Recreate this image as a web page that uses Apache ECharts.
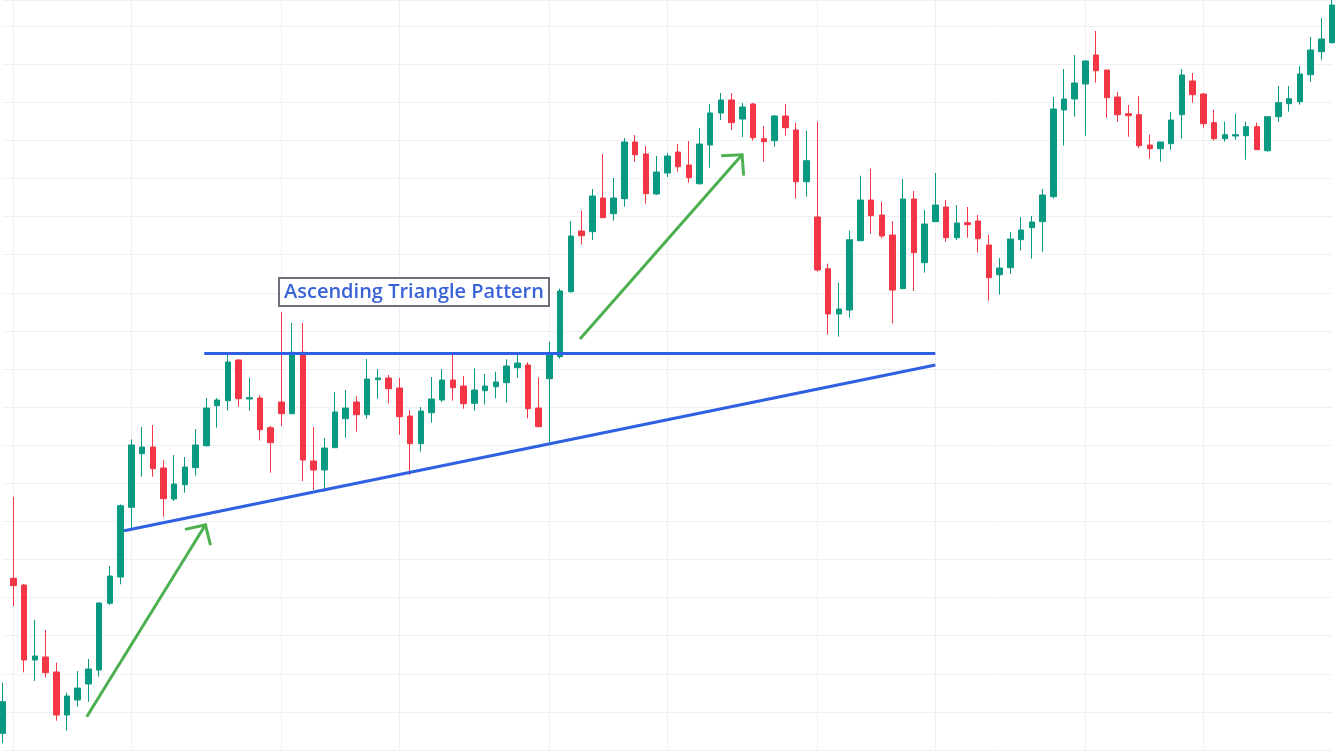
<!DOCTYPE html>
<html>
<head>
<meta charset="utf-8">
<title>Ascending Triangle Pattern</title>
<script src="https://cdn.jsdelivr.net/npm/echarts@6/dist/echarts.min.js"></script>
<style>
  html, body { margin: 0; padding: 0; background: #fff; }
  #chart { width: 1340px; height: 753px; }
</style>
</head>
<body>
<div id="chart"></div>
<script>
// daily OHLC
const open = [
  39.77, 55.27, 54.6, 47.1, 47.4, 45.9, 41.6, 43.1, 44.7, 46.1,
  52.77, 55.4, 62.37, 67.73, 68.4, 66.3, 63.2, 64.63, 66.33, 68.53,
  72.53, 73.03, 77.1, 73.2, 73.3, 70.33, 72.9, 71.73, 77.87, 67.0,
  66.1, 68.33, 71.23, 72.9, 71.63, 75.13, 75.3, 74.3, 71.5, 68.73,
  71.83, 73.1, 75.1, 74.5, 72.77, 74.03, 74.43, 74.83, 76.33, 76.6,
  72.3, 75.23, 77.43, 83.93, 90.0, 89.93, 93.3, 91.73, 93.23, 98.9,
  97.7, 93.7, 95.8, 97.9, 96.6, 94.73, 98.6, 101.8, 103.1, 101.2,
  102.7, 99.23, 99.03, 101.5, 100.1, 94.93, 91.4, 86.23, 81.7, 82.1,
  89.03, 93.1, 91.6, 89.6, 84.23, 93.2, 86.83, 90.93, 92.4, 89.33,
  90.83, 91.0, 88.6, 85.63, 86.33, 89.13, 90.33, 90.93, 93.43, 102.1,
  103.2, 104.7, 107.6, 106.1, 103.4, 101.73, 101.63, 98.6, 98.23, 98.73,
  101.63, 105.0, 103.7, 100.83, 99.23, 99.5, 99.53, 100.43, 98.03, 101.43,
  102.73, 102.93, 105.63, 107.93, 108.83
];
const close = [
  42.93, 54.53, 47.1, 47.5, 45.83, 41.6, 43.5, 44.3, 46.2, 52.8,
  55.5, 62.53, 68.6, 68.4, 66.23, 63.23, 64.7, 66.4, 68.6, 72.3,
  73.1, 76.9, 73.23, 73.33, 70.13, 68.83, 71.73, 77.87, 67.1, 66.1,
  68.3, 71.9, 72.3, 71.63, 75.2, 75.3, 74.23, 71.43, 68.73, 72.0,
  73.2, 75.1, 74.33, 72.73, 74.1, 74.5, 74.9, 76.5, 76.8, 72.23,
  70.43, 77.63, 84.0, 89.5, 89.53, 93.5, 91.33, 93.3, 98.9, 97.63,
  93.73, 95.9, 97.5, 96.43, 95.33, 98.7, 101.8, 103.1, 100.83, 102.4,
  99.33, 98.93, 101.5, 100.33, 94.93, 97.03, 86.1, 81.7, 82.2, 89.13,
  93.1, 91.53, 89.5, 84.1, 93.2, 87.83, 90.7, 92.6, 89.33, 90.8,
  90.63, 89.23, 85.33, 86.3, 89.2, 90.1, 90.9, 93.6, 102.2, 103.2,
  104.8, 107.0, 106.03, 103.33, 101.63, 101.53, 98.53, 98.23, 98.9, 101.1,
  105.6, 103.63, 100.73, 99.23, 99.63, 99.63, 100.43, 98.13, 101.43, 102.83,
  103.23, 105.7, 108.1, 109.2, 112.6
];
const low = [
  38.77, 52.5, 45.87, 45.0, 45.37, 41.03, 40.03, 42.43, 42.93, 45.43,
  52.6, 54.67, 60.3, 65.43, 65.43, 61.43, 63.0, 63.83, 65.53, 68.43,
  70.33, 72.03, 72.43, 72.03, 69.07, 65.83, 70.5, 71.7, 65.0, 64.1,
  63.9, 68.3, 69.33, 69.93, 71.23, 73.23, 72.73, 69.63, 65.6, 67.93,
  70.83, 72.93, 73.03, 72.23, 72.03, 72.67, 73.27, 72.83, 75.33, 71.27,
  70.4, 68.87, 77.23, 83.83, 88.63, 89.1, 91.3, 91.03, 92.43, 96.93,
  92.73, 93.6, 95.4, 95.93, 94.83, 94.63, 96.33, 101.1, 100.1, 99.4,
  99.03, 96.93, 98.43, 99.53, 93.23, 93.43, 85.93, 79.63, 79.43, 81.33,
  89.0, 89.73, 89.27, 80.77, 84.2, 84.0, 85.83, 90.9, 88.93, 89.1,
  89.33, 87.83, 83.03, 83.63, 85.73, 88.03, 87.23, 87.93, 93.27, 98.53,
  101.43, 99.53, 104.83, 101.33, 100.93, 99.43, 98.27, 97.23, 96.93, 98.13,
  99.23, 102.83, 100.33, 99.03, 98.93, 99.13, 97.13, 98.1, 97.93, 100.93,
  101.93, 102.63, 104.93, 107.13, 108.73
];
const high = [
  44.83, 63.43, 54.7, 51.1, 50.1, 46.83, 43.83, 46.0, 47.2, 52.85,
  56.5, 62.67, 69.17, 70.4, 70.6, 67.1, 67.6, 67.4, 70.2, 73.3,
  73.3, 77.77, 77.2, 75.33, 73.57, 70.5, 81.9, 80.8, 80.8, 70.4,
  69.3, 73.9, 74.1, 73.5, 77.2, 76.2, 75.6, 75.3, 72.1, 72.4,
  75.4, 76.2, 77.8, 75.5, 76.27, 75.7, 75.93, 77.17, 77.63, 76.87,
  75.37, 78.93, 84.23, 91.0, 92.03, 94.2, 97.7, 95.3, 99.3, 99.6,
  98.5, 97.5, 97.8, 98.7, 99.0, 100.3, 102.7, 103.8, 103.8, 102.8,
  102.8, 100.5, 101.6, 102.7, 100.8, 100.03, 100.93, 86.73, 84.83, 90.03,
  95.53, 96.23, 92.93, 91.0, 95.2, 94.0, 92.1, 95.8, 93.1, 92.6,
  92.4, 91.6, 89.6, 87.3, 89.9, 91.4, 91.5, 94.2, 103.4, 106.2,
  107.6, 107.05, 110.0, 106.1, 103.9, 102.6, 103.5, 99.63, 98.9, 101.9,
  106.2, 105.8, 103.8, 102.13, 100.93, 101.73, 100.93, 100.83, 101.45, 104.5,
  104.5, 106.5, 109.4, 111.3, 113.1
];
const days = open.map((_, i) => 'D' + (i + 1));

// faint vertical grid lines sit on these sessions
const vGridDays = [1, 12, 26, 37, 51, 62, 76, 87, 101, 112];

// drawn annotations, [session, price]
const resistanceLine = [[18.8, 77.75], [87.0, 77.75]];
const supportLine = [[11.32, 60.03], [87.0, 76.6]];
const arrowUp1 = [[7.84, 41.43], [18.96, 60.7]];
const arrowUp2 = [[53.85, 79.2], [69.03, 97.7]];

const UP = '#089981';
const DOWN = '#f23645';
const BLUE = '#2f60e2';
const GREEN = '#4caf50';
const GRID = '#eef0f3';

const chevron = 'path://M16,0M16,15.5L32,31.1L29.9,33.2L16,19.7L2.1,33.2L0,31.1Z';

const chart = echarts.init(document.getElementById('chart'));

chart.setOption({
  animation: false,
  backgroundColor: '#ffffff',
  title: {
    text: 'Ascending Triangle Pattern',
    left: 279,
    top: 278,
    padding: [3, 5, 2, 5],
    borderColor: '#6b7079',
    borderWidth: 2,
    backgroundColor: '#ffffff',
    textStyle: {
      color: '#3a63d8',
      fontSize: 20,
      fontWeight: 600,
      fontFamily: 'Open Sans',
      lineHeight: 23
    }
  },
  grid: { left: 2.7, right: 8, top: 0, bottom: 3 },
  xAxis: [
    {
      type: 'category',
      data: days,
      boundaryGap: false,
      axisLine: { show: false },
      axisTick: { show: false },
      axisLabel: { show: false },
      splitLine: {
        show: true,
        interval: (idx) => vGridDays.includes(idx),
        lineStyle: { color: GRID, width: 1 }
      }
    },
    {
      type: 'value',
      min: 0,
      max: days.length - 1,
      show: false,
      splitLine: { show: false }
    }
  ],
  yAxis: {
    type: 'value',
    min: 38.1,
    max: 113.1,
    interval: 3.81,
    axisLine: { show: false },
    axisTick: { show: false },
    axisLabel: { show: false },
    splitLine: { lineStyle: { color: GRID, width: 1 } }
  },
  series: [
    {
      type: 'candlestick',
      data: open.map((o, i) => [o, close[i], low[i], high[i]]),
      barWidth: 6,
      clip: false,
      silent: true,
      itemStyle: {
        color: UP,
        color0: DOWN,
        borderColor: UP,
        borderColor0: DOWN,
        borderWidth: 1
      }
    },
    {
      type: 'line',
      xAxisIndex: 1,
      data: resistanceLine,
      symbol: 'none',
      silent: true,
      z: 5,
      lineStyle: { color: BLUE, width: 3 }
    },
    {
      type: 'line',
      xAxisIndex: 1,
      data: supportLine,
      symbol: 'none',
      silent: true,
      z: 5,
      lineStyle: { color: BLUE, width: 3 }
    },
    {
      type: 'line',
      xAxisIndex: 1,
      data: [],
      silent: true,
      z: 6,
      markLine: {
        silent: true,
        symbol: ['none', chevron],
        symbolSize: [32, 33.2],
        label: { show: false },
        lineStyle: { color: GREEN, width: 3, type: 'solid' },
        data: [
          [{ coord: arrowUp1[0] }, { coord: arrowUp1[1] }],
          [{ coord: arrowUp2[0] }, { coord: arrowUp2[1] }]
        ]
      }
    }
  ]
});

window.addEventListener('resize', () => chart.resize());
</script>
</body>
</html>
